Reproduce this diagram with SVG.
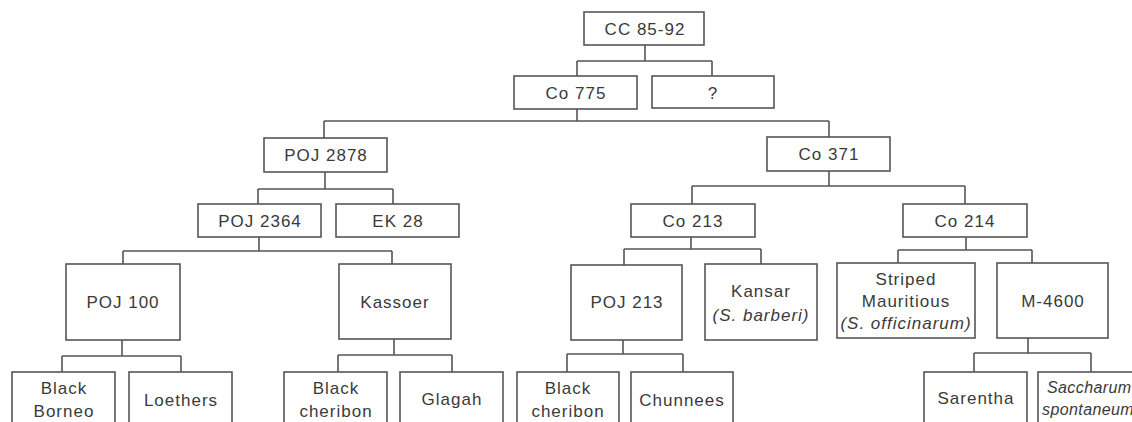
<svg xmlns="http://www.w3.org/2000/svg" width="1132" height="422" viewBox="0 0 1132 422">
<style>
.b{fill:#fff;stroke:#555;stroke-width:1.6}
.c{fill:none;stroke:#555;stroke-width:1.6}
text{font-family:"Liberation Sans",Arial,sans-serif;font-size:17px;fill:#3a3a3a;text-anchor:middle;letter-spacing:1px}
.i{font-style:italic}
.s{text-anchor:start;font-size:16px;letter-spacing:0.4px}
</style>
<rect width="1132" height="422" fill="#fff"/>
<g id="connectors" class="c">
<path d="M645 45V61M577 61H712M577 61V76M712 61V76"/>
<path d="M577 109V121M324 121H829M324 121V138M829 121V137"/>
<path d="M325 172V189M258 189H393M258 189V204M393 189V204"/>
<path d="M829 171V186M692 186H965M692 186V204M965 186V204"/>
<path d="M259 237V251M123 251H392M123 251V264M392 251V264"/>
<path d="M691 237V249M624 249H761M624 249V265M761 249V264"/>
<path d="M966 237V250M898 250H1032M898 250V263M1032 250V263"/>
<path d="M122 340V356M62 356H181M62 356V372M181 356V372"/>
<path d="M394 339V355M338 355H452M338 355V372M452 355V372"/>
<path d="M623 340V354M567 354H683M567 354V372M683 354V372"/>
<path d="M1028 338V353M974 353H1091M974 353V372M1091 353V372"/>
</g>
<g id="n-cc8592"><rect class="b" x="584" y="12" width="120" height="33"/><text x="645" y="35">CC 85-92</text></g>
<g id="n-co775"><rect class="b" x="514" y="76" width="123" height="33"/><text x="576" y="99">Co 775</text></g>
<g id="n-unknown"><rect class="b" x="652" y="76" width="122" height="32"/><text x="713" y="99">?</text></g>
<g id="n-poj2878"><rect class="b" x="264" y="138" width="123" height="34"/><text x="326" y="161">POJ 2878</text></g>
<g id="n-co371"><rect class="b" x="767" y="137" width="123" height="34"/><text x="829" y="160">Co 371</text></g>
<g id="n-poj2364"><rect class="b" x="198" y="204" width="123" height="33"/><text x="260" y="227">POJ 2364</text></g>
<g id="n-ek28"><rect class="b" x="336" y="204" width="123" height="33"/><text x="398" y="227">EK 28</text></g>
<g id="n-co213"><rect class="b" x="631" y="204" width="124" height="33"/><text x="693" y="227">Co 213</text></g>
<g id="n-co214"><rect class="b" x="903" y="204" width="124" height="33"/><text x="965" y="227">Co 214</text></g>
<g id="n-poj100"><rect class="b" x="66" y="264" width="114" height="76"/><text x="123" y="308">POJ 100</text></g>
<g id="n-kassoer"><rect class="b" x="339" y="264" width="112" height="75"/><text x="395" y="308">Kassoer</text></g>
<g id="n-poj213"><rect class="b" x="571" y="265" width="111" height="75"/><text x="627" y="308">POJ 213</text></g>
<g id="n-kansar"><rect class="b" x="705" y="264" width="112" height="76"/><text x="761" y="297">Kansar</text><text class="i" x="761" y="321">(S. barberi)</text></g>
<g id="n-striped"><rect class="b" x="837" y="263" width="138" height="75"/><text x="906" y="285">Striped</text><text x="906" y="307">Mauritious</text><text class="i" x="906" y="329">(S. officinarum)</text></g>
<g id="n-m4600"><rect class="b" x="997" y="263" width="111" height="75"/><text x="1053" y="307">M-4600</text></g>
<g id="n-blackborneo"><rect class="b" x="12" y="372" width="103" height="60"/><text x="64" y="394">Black</text><text x="64" y="417">Borneo</text></g>
<g id="n-loethers"><rect class="b" x="129" y="372" width="103" height="60"/><text x="181" y="406">Loethers</text></g>
<g id="n-blackcheribon1"><rect class="b" x="284" y="372" width="103" height="60"/><text x="336" y="394">Black</text><text x="336" y="417">cheribon</text></g>
<g id="n-glagah"><rect class="b" x="400" y="372" width="103" height="60"/><text x="452" y="405">Glagah</text></g>
<g id="n-blackcheribon2"><rect class="b" x="517" y="372" width="102" height="60"/><text x="568" y="394">Black</text><text x="568" y="417">cheribon</text></g>
<g id="n-chunnees"><rect class="b" x="631" y="372" width="102" height="60"/><text x="682" y="406">Chunnees</text></g>
<g id="n-sarentha"><rect class="b" x="924" y="372" width="103" height="60"/><text x="976" y="404">Sarentha</text></g>
<g id="n-saccharum"><rect class="b" x="1038" y="372" width="103" height="60"/><text class="i s" x="1047" y="393">Saccharum</text><text class="i s" x="1042" y="415">spontaneum</text></g>
</svg>
